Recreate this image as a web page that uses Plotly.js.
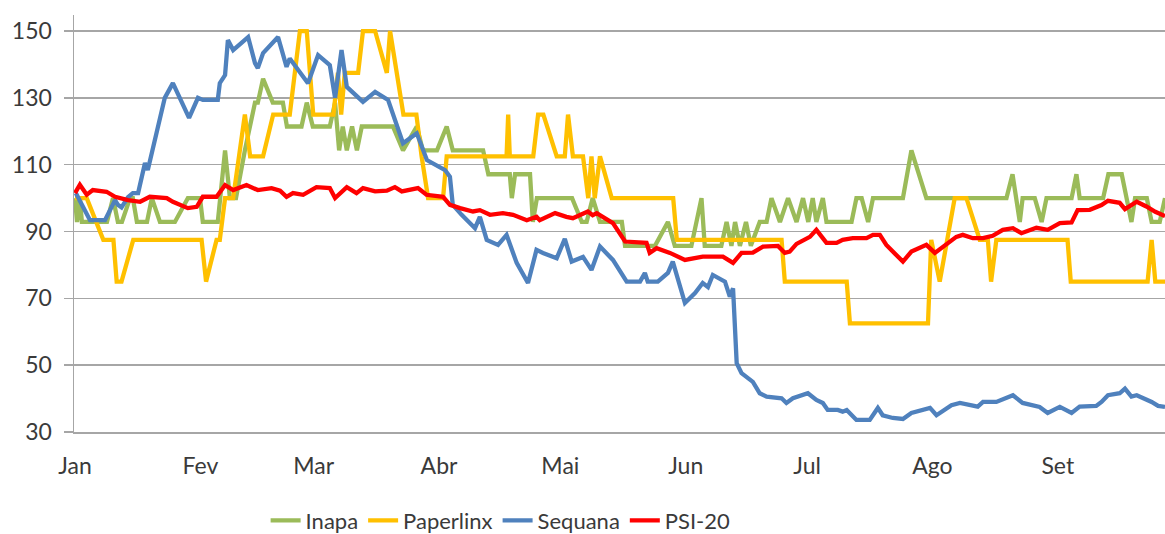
<!DOCTYPE html>
<html>
<head>
<meta charset="utf-8">
<script src="https://cdn.plot.ly/plotly-3.0.1.min.js"></script>
<style>
  html, body { margin: 0; padding: 0; background: #ffffff; }
  #chart { width: 1165px; height: 534px; }
</style>
</head>
<body>
<div id="chart"></div>
<script>
// x values: day of year (0 = 1 Jan), y values: index (base 100)
const monthStarts = [0, 31, 59, 90, 120, 151, 181, 212, 243];
const monthLabels = ["Jan", "Fev", "Mar", "Abr", "Mai", "Jun", "Jul", "Ago", "Set"];
const yTicks = [30, 50, 70, 90, 110, 130, 150];

const inapaDays = [0, 0.5, 1.2, 1.7, 7.9, 9.4, 10.6, 11.6, 13.6, 14.3, 15.3, 17.8, 19.0, 21.0, 24.7, 27.9, 30.9, 31.6, 35.3, 37.1, 38.3, 39.8, 42.0, 43.3, 44.5, 45.2, 46.5, 48.9, 51.4, 52.4, 56.0, 57.3, 58.8, 63.0, 64.3, 65.3, 66.2, 67.2, 68.5, 69.7, 70.9, 78.6, 81.1, 84.5, 86.0, 89.5, 91.9, 93.4, 100.9, 102.2, 107.5, 108.0, 108.8, 112.5, 113.2, 114.2, 122.9, 125.3, 126.5, 128.0, 129.8, 135.2, 136.0, 143.4, 146.6, 148.3, 152.4, 154.9, 155.7, 159.8, 161.1, 162.3, 163.2, 164.4, 165.9, 167.1, 169.3, 171.0, 172.2, 174.3, 176.3, 178.4, 180.0, 181.3, 182.4, 183.3, 184.9, 185.8, 192.0, 193.2, 194.5, 196.1, 197.3, 204.7, 206.8, 210.5, 230.3, 231.8, 233.6, 234.3, 237.3, 239.0, 240.2, 246.4, 247.6, 248.4, 254.2, 255.5, 258.8, 260.0, 261.2, 262.1, 265.0, 266.2, 268.2, 269.5];
const inapaVals = [100, 92.86, 100, 92.86, 92.86, 100, 92.86, 92.86, 100, 100, 92.86, 92.86, 100, 92.86, 92.86, 100, 100, 92.86, 92.86, 114.29, 100, 100, 114.29, 121.43, 128.57, 128.57, 135.71, 128.57, 128.57, 121.43, 121.43, 128.57, 121.43, 121.43, 128.57, 114.29, 121.43, 114.29, 121.43, 114.29, 121.43, 121.43, 114.29, 121.43, 114.29, 114.29, 121.43, 114.29, 114.29, 107.14, 107.14, 100, 107.14, 107.14, 92.86, 100, 100, 92.86, 92.86, 100, 92.86, 92.86, 85.71, 85.71, 92.86, 85.71, 85.71, 100, 85.71, 85.71, 92.86, 85.71, 92.86, 85.71, 92.86, 85.71, 92.86, 92.86, 100, 92.86, 100, 92.86, 100, 92.86, 100, 92.86, 100, 92.86, 92.86, 100, 100, 92.86, 100, 100, 114.29, 100, 100, 107.14, 92.86, 100, 100, 92.86, 100, 100, 107.14, 100, 100, 107.14, 107.14, 100, 92.86, 100, 100, 92.86, 92.86, 100];

const paperDays = [0, 2.9, 7.0, 9.5, 10.3, 11.5, 14.4, 31.3, 32.4, 35.0, 35.8, 37.1, 39.1, 42.0, 43.3, 46.5, 49.0, 53.1, 55.6, 57.3, 58.9, 63.9, 65.0, 65.8, 66.7, 70.0, 71.2, 74.2, 77.1, 77.9, 81.2, 84.4, 85.7, 87.3, 91.0, 91.9, 106.7, 107.1, 107.5, 113.3, 114.5, 115.8, 119.1, 121.1, 121.9, 123.1, 125.6, 126.9, 127.7, 128.5, 129.8, 132.7, 147.9, 148.8, 174.7, 175.5, 190.8, 191.6, 210.9, 211.7, 213.8, 217.5, 220.4, 223.7, 225.7, 226.5, 227.8, 245.4, 246.2, 265.2, 266.2, 267.1, 269.5];
const paperVals = [100, 100, 87.5, 87.5, 75, 75, 87.5, 87.5, 75, 87.5, 87.5, 100, 100, 125, 112.5, 112.5, 125, 125, 150, 150, 125, 125, 137.5, 125, 137.5, 137.5, 150, 150, 137.5, 150, 125, 125, 112.5, 100, 100, 112.5, 112.5, 125, 112.5, 112.5, 125, 125, 112.5, 112.5, 125, 112.5, 112.5, 100, 112.5, 100, 112.5, 100, 100, 87.5, 87.5, 75, 75, 62.5, 62.5, 87.5, 75, 100, 100, 87.5, 87.5, 75, 87.5, 87.5, 75, 75, 87.5, 75, 75];

const sequanaDays = [0.2, 3.7, 7.4, 9.9, 10.6, 11.5, 13.1, 14.3, 15.6, 17.3, 18.0, 22.2, 24.2, 28.2, 30.4, 31.6, 35.3, 35.8, 37.1, 37.8, 39.1, 42.8, 44.5, 45.2, 46.5, 50.2, 52.3, 53.1, 57.6, 60.1, 63.0, 64.3, 65.9, 67.2, 71.2, 74.2, 77.4, 78.6, 81.1, 84.5, 87.0, 91.5, 92.7, 93.4, 95.6, 98.9, 100.1, 101.8, 104.6, 106.7, 109.2, 112.0, 114.1, 115.7, 119.1, 121.1, 122.8, 125.6, 127.7, 129.8, 133.0, 136.4, 139.7, 140.9, 141.6, 144.1, 146.6, 147.8, 150.8, 153.3, 155.2, 156.5, 157.7, 160.7, 161.9, 162.7, 163.6, 164.8, 167.6, 169.3, 171.0, 174.7, 175.9, 177.5, 181.2, 183.3, 184.9, 186.1, 188.6, 189.8, 190.8, 193.2, 196.5, 198.5, 199.7, 202.2, 204.7, 206.8, 211.4, 213.0, 216.7, 218.8, 223.2, 224.5, 227.8, 231.9, 234.3, 238.5, 240.5, 243.5, 246.4, 248.4, 252.5, 253.8, 255.4, 258.3, 259.6, 261.2, 262.5, 266.2, 267.8, 269.5];
const sequanaVals = [101.5, 93.4, 93.4, 99.4, 98, 97.2, 100.3, 101.5, 101.5, 110.5, 108.4, 130, 134.4, 124, 130, 129.4, 129.4, 134.4, 136.8, 147.3, 144.3, 148.2, 140.4, 138.9, 143.4, 148.2, 139.3, 141.8, 134.4, 142.8, 139.8, 130, 144.3, 133.3, 128.8, 131.8, 129.4, 124.9, 116.4, 119.4, 111.4, 108.4, 106.4, 98, 95, 91, 94.4, 87.5, 86, 89, 80.6, 74.6, 84.5, 83.6, 82, 87.8, 81, 82.4, 78.5, 85.5, 81.5, 75, 75, 77.6, 75, 75, 77.6, 81, 68.6, 71.6, 74.6, 73.4, 77, 75, 70.5, 73, 50.6, 47.6, 45, 41.6, 40.6, 40.1, 38.7, 40.1, 41.6, 39.6, 38.7, 36.6, 36.6, 36.1, 36.6, 33.6, 33.6, 37.2, 35, 34.2, 33.9, 35.7, 37.2, 35, 38, 38.7, 37.6, 39, 39, 41, 38.7, 37.5, 35.7, 37.5, 35.7, 37.6, 37.8, 39, 41, 41.6, 43, 40.6, 41, 39, 37.8, 37.5];

const psiDays = [0, 1.2, 2.9, 4.4, 7.8, 9.9, 13.1, 16.1, 18.5, 22.7, 24.2, 27.9, 30.1, 31.6, 35.0, 37.1, 39.1, 42.4, 45.2, 48.6, 50.7, 52.3, 53.9, 56.4, 59.7, 63.0, 64.3, 67.2, 69.6, 71.2, 74.2, 77.1, 79.1, 80.8, 84.8, 86.9, 91.0, 92.7, 95.2, 98.4, 100.1, 102.6, 105.8, 108.3, 111.7, 114.1, 114.9, 118.7, 121.5, 123.1, 126.8, 128.0, 129.0, 133.0, 136.0, 141.3, 142.1, 143.8, 147.1, 150.8, 155.2, 160.2, 162.7, 164.8, 167.6, 170.1, 173.8, 175.5, 176.7, 178.4, 181.7, 183.3, 185.8, 188.3, 189.8, 192.3, 195.7, 197.3, 199.0, 200.6, 202.2, 204.7, 206.8, 210.5, 212.6, 214.6, 217.9, 219.5, 222.0, 224.5, 226.9, 229.4, 231.9, 234.0, 237.7, 240.5, 243.5, 246.4, 247.9, 250.9, 253.8, 255.4, 258.3, 259.6, 262.5, 264.9, 267.1, 269.5];
const psiVals = [101.5, 104, 101, 102.4, 101.9, 100.4, 99.4, 98.9, 100.4, 100, 98.9, 97, 97.4, 100.4, 100.4, 103.9, 102.4, 103.9, 102.4, 103, 102.2, 100.4, 101.5, 101, 103.3, 103, 100, 103.3, 101.5, 103, 102, 102.2, 103.3, 102, 103, 101, 100.4, 98, 97, 96, 96.4, 95, 95.5, 95, 93.4, 94.4, 93.4, 95.5, 94.4, 94, 96, 94.9, 95.5, 92.5, 87, 86.6, 83.6, 85, 83.6, 81.5, 82.5, 82.5, 80.6, 83.6, 83.7, 85.5, 85.7, 83.6, 84, 86.3, 88.4, 90.5, 86.6, 86.6, 87.5, 88, 88, 89, 89, 86, 84, 81, 84, 86, 83.6, 85.5, 88.4, 89, 88, 88, 88.7, 90.5, 91, 89.5, 91.1, 90.5, 92.5, 92.7, 96.4, 96.5, 97.9, 99.2, 98.6, 96.7, 98.9, 97.5, 95.9, 94.6];

const seriesNames = ["Inapa", "Paperlinx", "Sequana", "PSI-20"];
const seriesColors = ["#9BBB59", "#FFC000", "#4F81BD", "#FF0000"];
const xs = [inapaDays, paperDays, sequanaDays, psiDays];
const ys = [inapaVals, paperVals, sequanaVals, psiVals];

const traces = seriesNames.map((name, i) => ({
  type: "scatter",
  mode: "lines",
  name: name,
  x: xs[i],
  y: ys[i],
  line: { color: seriesColors[i], width: 4.3 },
  hoverinfo: "skip"
}));

const fontFam = "Lato, 'Open Sans', sans-serif";
const layout = {
  width: 1165,
  height: 534,
  margin: { l: 74, r: 0, t: 15, b: 102 },
  paper_bgcolor: "#ffffff",
  plot_bgcolor: "#ffffff",
  font: { family: fontFam, size: 23, color: "#3a3a3a" },
  showlegend: true,
  legend: {
    orientation: "h",
    xref: "container",
    x: 0.228, xanchor: "left",
    yref: "container",
    y: 0.025, yanchor: "middle",
    font: { family: fontFam, size: 22, color: "#3a3a3a" },
    itemwidth: 30,
    tracegroupgap: 0
  },
  xaxis: {
    type: "linear",
    range: [-0.25, 269.5],
    tickmode: "array",
    tickvals: monthStarts,
    ticktext: monthLabels,
    showgrid: false,
    zeroline: false,
    showline: true,
    linecolor: "#a6a6a6",
    linewidth: 1.5,
    ticks: "outside",
    ticklen: 13,
    tickcolor: "rgba(0,0,0,0)",
    tickfont: { family: fontFam, size: 23, color: "#3a3a3a" }
  },
  yaxis: {
    range: [30, 154.8],
    tickmode: "array",
    tickvals: yTicks,
    ticktext: yTicks.map(String),
    showgrid: true,
    gridcolor: "#a6a6a6",
    gridwidth: 1.5,
    zeroline: false,
    showline: true,
    linecolor: "#a6a6a6",
    linewidth: 1.5,
    ticks: "outside",
    ticklen: 9,
    tickwidth: 1.5,
    tickcolor: "#a6a6a6",
    ticklabelstandoff: 7,
    tickfont: { family: fontFam, size: 23, color: "#3a3a3a" }
  }
};

Plotly.newPlot("chart", traces, layout, { displayModeBar: false, staticPlot: true });
</script>
</body>
</html>
